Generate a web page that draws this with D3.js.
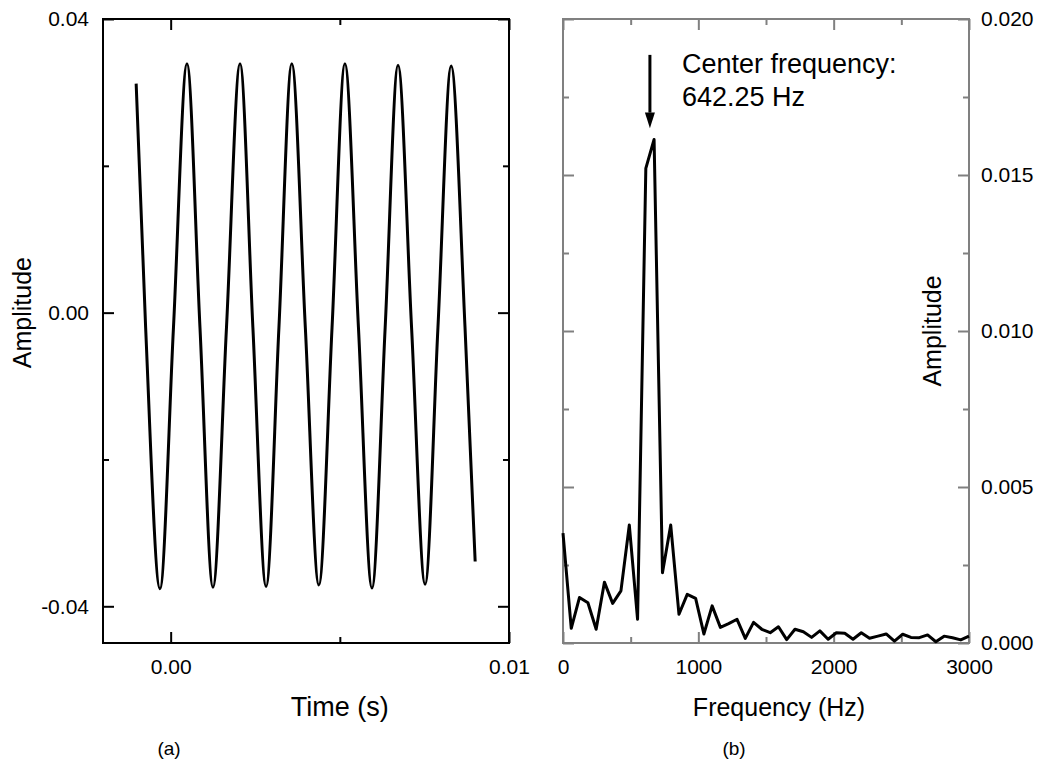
<!DOCTYPE html>
<html lang="en">
<head>
<meta charset="utf-8">
<title>Signal and spectrum</title>
<script src="https://cdn.jsdelivr.net/npm/d3@7"></script>
<style>
    body { margin: 0; background: #fff; }
    svg { font-family: "Liberation Sans", Arial, sans-serif; }
    .axis text { font-size: 21px; fill: #000; font-family: "Liberation Sans", Arial, sans-serif; }
    .axis line { stroke-width: 2px; }
    .title { font-size: 25px; fill: #000; }
    .caption { font-size: 19px; fill: #000; }
</style>
</head>
<body>
<div id="chart"></div>
<script>
// (a) time signal (peaks, troughs and crossings)
var timeS = [-0.00102, -0.00074, -0.000316, 0.000083, 0.000482, 0.000866, 0.00125, 0.00165,
             0.00205, 0.00243, 0.00282, 0.00320, 0.00358, 0.00398, 0.00438, 0.00477,
             0.00515, 0.00555, 0.00595, 0.00634, 0.00672, 0.00712, 0.00752, 0.00790,
             0.00829, 0.00870, 0.00900];
var signalAmp = [0.0312, -0.002, -0.0376, -0.002, 0.0339, -0.002, -0.0374, -0.002,
                 0.0339, -0.002, -0.0373, -0.002, 0.0339, -0.002, -0.0371, -0.002,
                 0.0339, -0.002, -0.0375, -0.002, 0.0337, -0.002, -0.0370, -0.002,
                 0.0336, -0.002, -0.0339];

// (b) spectrum
var freqHz = [0, 61, 122, 184, 245, 306, 367, 428, 490, 551,
              612, 673, 735, 796, 857, 918, 980, 1041, 1102, 1163,
              1224, 1286, 1347, 1408, 1469, 1531, 1592, 1653, 1714, 1776,
              1837, 1898, 1959, 2020, 2082, 2143, 2204, 2265, 2327, 2388,
              2449, 2510, 2571, 2633, 2694, 2755, 2816, 2878, 2939, 3000];
var specAmp = [0.00352, 0.00047, 0.00146, 0.00129, 0.00044, 0.00195, 0.00127, 0.00167, 0.00378, 0.00076,
               0.01521, 0.01614, 0.00225, 0.00378, 0.00092, 0.00156, 0.00143, 0.00029, 0.00119, 0.00050,
               0.00062, 0.00076, 0.00015, 0.00066, 0.00044, 0.00033, 0.00052, 0.00011, 0.00044, 0.00036,
               0.00018, 0.00039, 0.00012, 0.00033, 0.00031, 0.00012, 0.00033, 0.00015, 0.00022, 0.00029,
               0.00006, 0.00028, 0.00018, 0.00017, 0.00026, 0.00004, 0.00022, 0.00017, 0.00010, 0.00022];
var centerFreq = 642.25;

// ticks
var timeTicks = [0, 0.01], timeMinor = [0.005];
var ampTicks = [-0.04, 0, 0.04], ampMinor = [-0.02, 0.02];
var freqTicks = [0, 1000, 2000, 3000], freqMinor = [500, 1500, 2500];
var specTicks = [0, 0.005, 0.010, 0.015, 0.020], specMinor = [0.0025, 0.0075, 0.0125, 0.0175];

var width = 1043, height = 770;
var svg = d3.select("#chart").append("svg")
    .attr("width", width)
    .attr("height", height);
svg.append("rect").attr("width", width).attr("height", height).attr("fill", "#fff");

var top0 = 19, bottom0 = 643;
var xT = d3.scaleLinear().domain([-0.002, 0.01]).range([103, 509]);
var yT = d3.scaleLinear().domain([-0.045, 0.04]).range([bottom0, top0]);
var xF = d3.scaleLinear().domain([0, 3000]).range([563, 969]);
var yF = d3.scaleLinear().domain([0, 0.02]).range([bottom0, top0]);

// draws one side of a frame: major + minor inward ticks
function side(axisFn, scale, pos, major, minor, fmt, color, pad) {
    var tr = (axisFn === d3.axisBottom || axisFn === d3.axisTop) ? "translate(0," + pos + ")" : "translate(" + pos + ",0)";
    var g = svg.append("g").attr("class", "axis").attr("transform", tr).style("color", color);
    g.call(axisFn(scale).tickValues(major).tickSize(-11).tickPadding(pad || 10)
        .tickFormat(fmt || function() { return ""; }));
    g.select(".domain").remove();
    var g2 = svg.append("g").attr("class", "axis").attr("transform", tr).style("color", color);
    g2.call(axisFn(scale).tickValues(minor).tickSize(-6).tickFormat(function() { return ""; }));
    g2.select(".domain").remove();
}

// ----- panel (a)
svg.append("rect")
    .attr("x", xT.range()[0]).attr("y", top0)
    .attr("width", xT.range()[1] - xT.range()[0]).attr("height", bottom0 - top0)
    .attr("fill", "none").attr("stroke", "#000").attr("stroke-width", 2);

side(d3.axisBottom, xT, bottom0, timeTicks, timeMinor, function(d) { return d.toFixed(2); }, "#000", 16);
side(d3.axisTop, xT, top0, timeTicks, timeMinor, null, "#000");
side(d3.axisLeft, yT, xT.range()[0], ampTicks, ampMinor, function(d) { return d.toFixed(2); }, "#000", 14);
side(d3.axisRight, yT, xT.range()[1], ampTicks, ampMinor, null, "#000");

var sigLine = d3.line()
    .x(function(d, i) { return xT(timeS[i]); })
    .y(function(d) { return yT(d); })
    .curve(d3.curveMonotoneX);
svg.append("path")
    .datum(signalAmp)
    .attr("d", sigLine)
    .attr("fill", "none")
    .attr("stroke", "#000")
    .attr("stroke-width", 3)
    .attr("stroke-linejoin", "round");

svg.append("text").attr("class", "title")
    .attr("x", xT(0.005)).attr("y", 716).attr("text-anchor", "middle")
    .style("font-size", "27px").text("Time (s)");
svg.append("text").attr("class", "title")
    .attr("transform", "translate(31," + yT(0) + ") rotate(-90)")
    .attr("text-anchor", "middle").text("Amplitude");
svg.append("text").attr("class", "caption")
    .attr("x", 169).attr("y", 755).attr("text-anchor", "middle").text("(a)");

// ----- panel (b)
side(d3.axisBottom, xF, bottom0, freqTicks, freqMinor, function(d) { return d; }, "#808080", 16);
side(d3.axisTop, xF, top0, freqTicks, freqMinor, null, "#808080");
side(d3.axisLeft, yF, xF.range()[0], specTicks, specMinor, null, "#808080");
side(d3.axisRight, yF, xF.range()[1], specTicks, specMinor, function(d) { return d.toFixed(3); }, "#808080", 12);

svg.append("rect")
    .attr("x", xF.range()[0]).attr("y", top0)
    .attr("width", xF.range()[1] - xF.range()[0]).attr("height", bottom0 - top0)
    .attr("fill", "none").attr("stroke", "#808080").attr("stroke-width", 2);

var specLine = d3.line()
    .x(function(d, i) { return xF(freqHz[i]); })
    .y(function(d) { return yF(d); });
svg.append("path")
    .datum(specAmp)
    .attr("d", specLine)
    .attr("fill", "none")
    .attr("stroke", "#000")
    .attr("stroke-width", 3)
    .attr("stroke-linejoin", "round");

// arrow to the peak
var ax = xF(centerFreq);
svg.append("line")
    .attr("x1", ax).attr("x2", ax)
    .attr("y1", yF(0.01885)).attr("y2", yF(0.0170))
    .attr("stroke", "#000").attr("stroke-width", 3);
svg.append("path")
    .attr("d", "M" + (ax - 5) + "," + yF(0.0170) + "L" + (ax + 5) + "," + yF(0.0170) + "L" + ax + "," + yF(0.0165) + "Z")
    .attr("fill", "#000");
svg.append("text").attr("class", "title")
    .attr("x", ax + 32).attr("y", 73).style("font-size", "27px").text("Center frequency:");
svg.append("text").attr("class", "title")
    .attr("x", ax + 32).attr("y", 106).style("font-size", "27px").text(centerFreq + " Hz");

svg.append("text").attr("class", "title")
    .attr("x", 779).attr("y", 716).attr("text-anchor", "middle").text("Frequency (Hz)");
svg.append("text").attr("class", "title")
    .attr("transform", "translate(941," + yF(0.01) + ") rotate(-90)")
    .attr("text-anchor", "middle").text("Amplitude");
svg.append("text").attr("class", "caption")
    .attr("x", 734).attr("y", 755).attr("text-anchor", "middle").text("(b)");
</script>
</body>
</html>
